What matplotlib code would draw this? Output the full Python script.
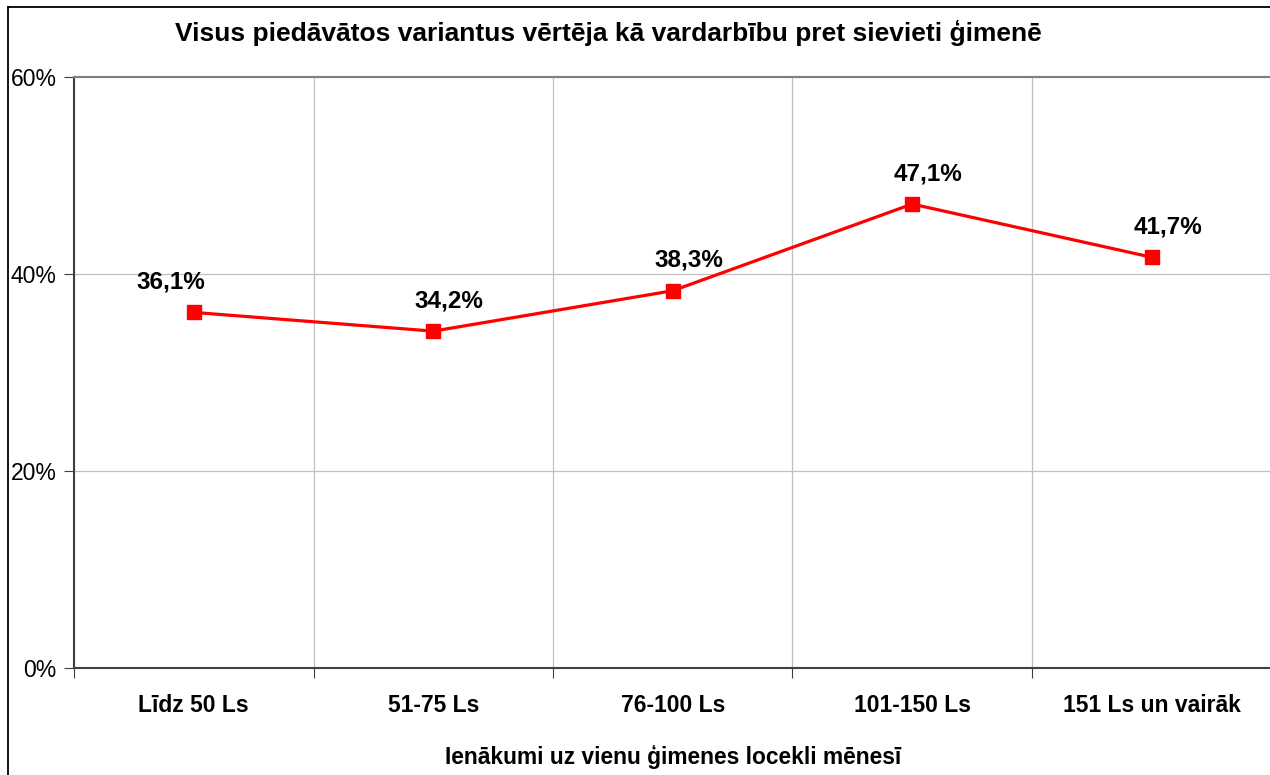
import matplotlib
matplotlib.use("Agg")
import matplotlib.pyplot as plt
from matplotlib.lines import Line2D
from matplotlib.ticker import FuncFormatter

plt.rcParams['font.family'] = ['Liberation Sans', 'DejaVu Sans']

# data
categories = ["Līdz 50 Ls", "51-75 Ls", "76-100 Ls", "101-150 Ls", "151 Ls un vairāk"]
values = [36.1, 34.2, 38.3, 47.1, 41.7]
title = "Visus piedāvātos variantus vērtēja kā vardarbību pret sievieti ģimenē"
xlabel = "Ienākumi uz vienu ģimenes locekli mēnesī"

fig = plt.figure(figsize=(12.7, 7.75), dpi=100)
ax = fig.add_axes([0.0583, 0.138, 0.9428, 0.7627])

x = list(range(len(categories)))
ax.plot(x, values, color='red', linewidth=2.3, marker='s', markersize=10,
        markerfacecolor='red', markeredgecolor='red', zorder=3)

# data labels (first one sits left of its point)
label_dx = [-23, 16, 16, 16, 16]
for xi, v, dx in zip(x, values, label_dx):
    ax.annotate(f"{v:.1f}%".replace('.', ','), (xi, v), xytext=(dx, 24),
                textcoords='offset pixels', ha='center', va='baseline',
                fontsize=17.5, fontweight='bold')

ax.set_xlim(-0.5, len(categories) - 0.5)
ax.set_ylim(0, 60)
ax.set_yticks([0, 20, 40, 60])
ax.yaxis.set_major_formatter(FuncFormatter(lambda v, p: f"{v:.0f}%"))
ax.yaxis.grid(True, color='#c0c0c0', linewidth=0.9)

# vertical gridlines and ticks between categories
ax.set_xticks([i + 0.5 for i in range(-1, len(categories))])
ax.set_xticklabels([])
ax.set_xticks(x, minor=True)
ax.set_xticklabels(categories, minor=True, fontsize=16.5, fontweight='bold')
ax.tick_params(axis='x', which='minor', length=0, pad=18.5)
ax.tick_params(axis='x', which='major', direction='out', length=7, color='#404040')
ax.xaxis.grid(True, which='major', color='#c0c0c0', linewidth=0.9)
ax.tick_params(axis='y', direction='out', length=7.5, labelsize=16.5, color='#404040', pad=5)
ax.set_axisbelow(True)

ax.spines['right'].set_visible(False)
ax.spines['top'].set_color('#808080')
ax.spines['top'].set_linewidth(1.5)
ax.spines['left'].set_color('#404040')
ax.spines['left'].set_linewidth(1.5)
ax.spines['bottom'].set_color('#404040')
ax.spines['bottom'].set_linewidth(1.5)

ax.set_xlabel(xlabel, fontsize=16.4, fontweight='bold', labelpad=20)
fig.text(0.479, 0.958, title, ha='center', va='center', fontsize=19, fontweight='bold')

# chart area border (left and top edges visible)
fig.add_artist(Line2D([8 / 1270, 8 / 1270], [0, 1 - 7 / 775], color='black', linewidth=1.3))
fig.add_artist(Line2D([8 / 1270, 1], [1 - 7 / 775, 1 - 7 / 775], color='black', linewidth=1.3))

fig.savefig("out.png", dpi=100)
